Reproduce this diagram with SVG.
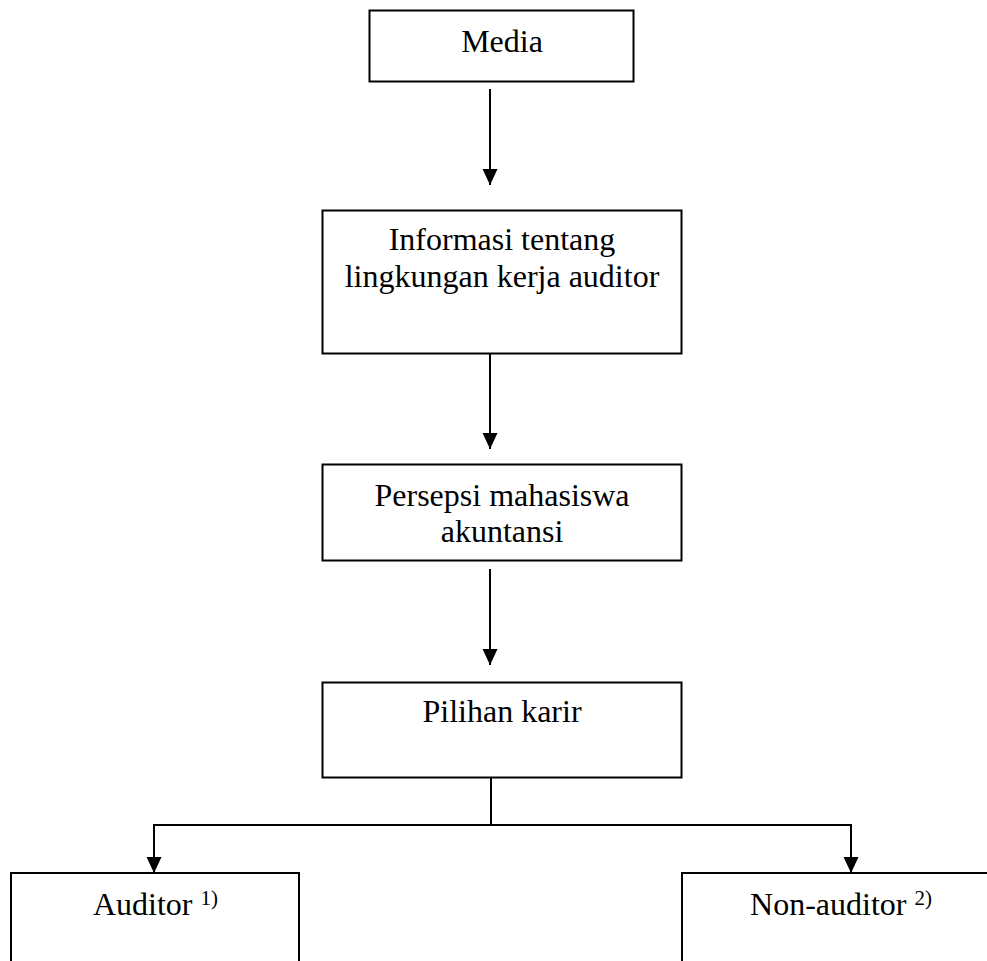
<svg xmlns="http://www.w3.org/2000/svg" width="987" height="961" viewBox="0 0 987 961">
<style>
.box{fill:#fff;stroke:#000;stroke-width:2}
.t{font-family:"Liberation Serif","Times New Roman",serif;font-size:32px;fill:#000;text-anchor:middle}
.sup{font-size:21px}
.c{fill:none;stroke:#000;stroke-width:2}
</style>
<defs>
<marker id="ah" markerUnits="userSpaceOnUse" markerWidth="16" markerHeight="16" viewBox="0 0 16 16" refX="16" refY="8" orient="auto">
<path d="M0,0.5 L16,8 L0,15.5 z" fill="#000"/>
</marker>
</defs>
<rect width="987" height="961" fill="#fff"/>
<g id="connectors">
<line class="c" x1="490" y1="89" x2="490" y2="185" marker-end="url(#ah)"/>
<line class="c" x1="490" y1="354" x2="490" y2="449" marker-end="url(#ah)"/>
<line class="c" x1="490" y1="569" x2="490" y2="665" marker-end="url(#ah)"/>
<line class="c" x1="491" y1="778" x2="491" y2="825"/>
<line class="c" x1="153" y1="825" x2="852" y2="825"/>
<line class="c" x1="154" y1="824" x2="154" y2="873" marker-end="url(#ah)"/>
<line class="c" x1="851" y1="824" x2="851" y2="873" marker-end="url(#ah)"/>
</g>
<g id="media">
<rect class="box" x="369.5" y="10.5" width="264" height="71"/>
<text class="t" x="502" y="52">Media</text>
</g>
<g id="informasi">
<rect class="box" x="322.5" y="210.5" width="359" height="143"/>
<text class="t" x="502" y="250">Informasi tentang</text>
<text class="t" x="502" y="287">lingkungan kerja auditor</text>
</g>
<g id="persepsi">
<rect class="box" x="322.5" y="464.5" width="359" height="96"/>
<text class="t" x="502" y="506">Persepsi mahasiswa</text>
<text class="t" x="502" y="542">akuntansi</text>
</g>
<g id="pilihan">
<rect class="box" x="322.5" y="682.5" width="359" height="95"/>
<text class="t" x="502" y="722">Pilihan karir</text>
</g>
<g id="auditor">
<rect class="box" x="11" y="873" width="288" height="100"/>
<text class="t" x="155.5" y="915">Auditor <tspan class="sup" dy="-10">1)</tspan></text>
</g>
<g id="nonauditor">
<rect class="box" x="682" y="873" width="330" height="100"/>
<text class="t" x="841" y="915">Non-auditor <tspan class="sup" dy="-10">2)</tspan></text>
</g>
</svg>
